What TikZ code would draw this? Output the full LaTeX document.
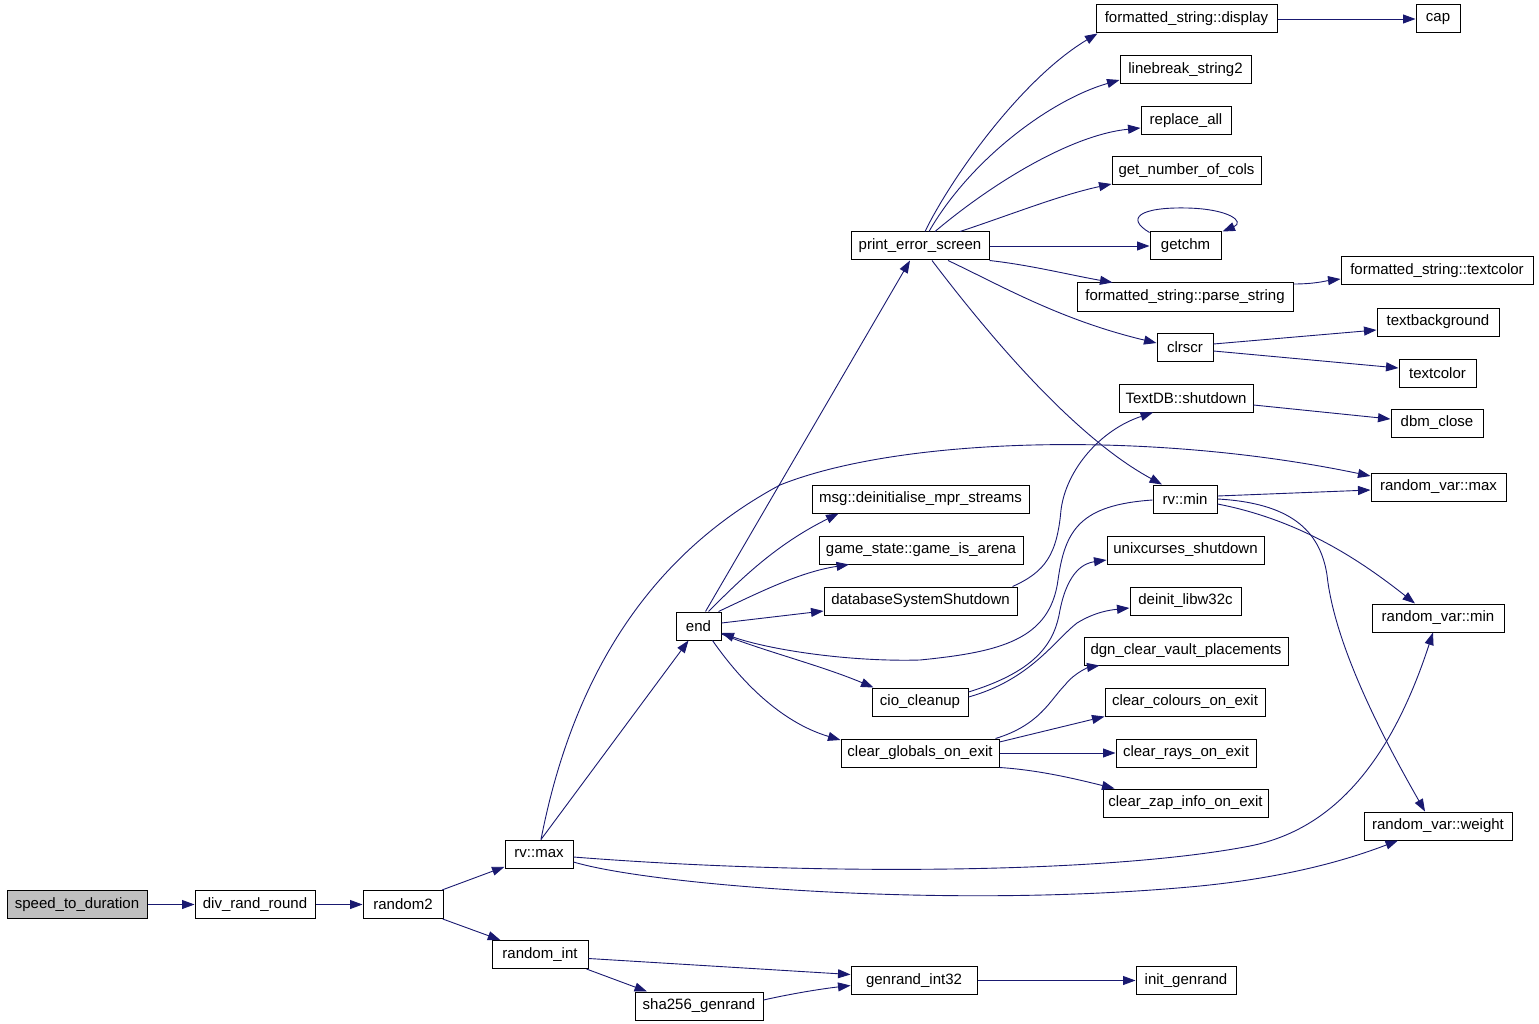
\documentclass[tikz,border=0pt]{standalone}
\usepackage{fontspec}
\setmainfont{Liberation Sans}
\usetikzlibrary{arrows.meta,calc}
\definecolor{edgec}{HTML}{191970}
\definecolor{grayfill}{HTML}{BFBFBF}
\begin{document}
\begin{tikzpicture}[x=1pt,y=-1pt,
  nd/.style={draw=black, line width=1pt, minimum width=#1, minimum height=28pt, inner sep=0pt, font=\fontsize{15}{18}\selectfont, fill=white},
  ed/.style={draw=edgec, line width=0.9pt, -{Triangle[length=12.5pt,width=9pt]}},
]
\useasboundingbox (0,0) rectangle (1539,1024);

% nodes
\node[nd=140pt, fill=grayfill] (std) at (77,904.5) {speed\_to\_duration};
\node[nd=120pt] (drr) at (255,904.5) {div\_rand\_round};
\node[nd=80pt] (r2) at (403,904.5) {random2};
\node[nd=68pt] (rvmax) at (539,854) {rv::max};
\node[nd=96pt] (rint) at (540,954.5) {random\_int};
\node[nd=128pt] (sha) at (699,1006) {sha256\_genrand};
\node[nd=126pt] (gen) at (914,980.5) {genrand\_int32};
\node[nd=100pt] (init) at (1186,980.5) {init\_genrand};
\node[nd=45pt] (endn) at (698.5,626) {end};
\node[nd=138pt] (pes) at (920,246) {print\_error\_screen};
\node[nd=181pt] (fsd) at (1186.5,19) {formatted\_string::display};
\node[nd=44pt] (cap) at (1438,19) {cap};
\node[nd=131pt] (lb2) at (1185.5,70) {linebreak\_string2};
\node[nd=90pt] (ra) at (1186,121) {replace\_all};
\node[nd=149pt] (gnc) at (1186.5,171) {get\_number\_of\_cols};
\node[nd=71pt] (getchm) at (1185.5,246) {getchm};
\node[nd=216pt] (fsp) at (1185,297) {formatted\_string::parse\_string};
\node[nd=192pt] (fst) at (1437,271) {formatted\_string::textcolor};
\node[nd=56pt] (clr) at (1185,347) {clrscr};
\node[nd=122pt] (tbg) at (1438,322) {textbackground};
\node[nd=77pt] (tc) at (1437.5,373) {textcolor};
\node[nd=134pt] (tdb) at (1186,398) {TextDB::shutdown};
\node[nd=92pt] (dbm) at (1437,423) {dbm\_close};
\node[nd=135pt] (rvarmax) at (1438.5,487) {random\_var::max};
\node[nd=64pt] (rvmin) at (1185,499) {rv::min};
\node[nd=217pt] (msg) at (920.5,499) {msg::deinitialise\_mpr\_streams};
\node[nd=204pt] (gia) at (921,550) {game\_state::game\_is\_arena};
\node[nd=193pt] (dss) at (920.5,601) {databaseSystemShutdown};
\node[nd=157pt] (unix) at (1185.5,550) {unixcurses\_shutdown};
\node[nd=111pt] (dlw) at (1185.5,601) {deinit\_libw32c};
\node[nd=132pt] (rvarmin) at (1438,618) {random\_var::min};
\node[nd=96pt] (cio) at (920,702) {cio\_cleanup};
\node[nd=204pt] (dgn) at (1186,651) {dgn\_clear\_vault\_placements};
\node[nd=160pt] (cco) at (1185,702) {clear\_colours\_on\_exit};
\node[nd=158pt] (cgo) at (920,753) {clear\_globals\_on\_exit};
\node[nd=140pt] (cro) at (1186,753) {clear\_rays\_on\_exit};
\node[nd=165pt] (czo) at (1185.5,803) {clear\_zap\_info\_on\_exit};
\node[nd=148pt] (rvw) at (1438,826) {random\_var::weight};

% edges
\draw[ed] (std.east) -- (drr.west);
\draw[ed] (drr.east) -- (r2.west);
\draw[ed] (r2) -- (rvmax);
\draw[ed] (r2) -- (rint);
\draw[ed] ($(rvmax.north)+(2,0)$) -- ($(endn.south)+(-10,0)$);
\draw[ed] ($(rvmax.north)+(2,0)$) .. controls (570,690) and (640,560) .. (780,485)
  .. controls (900,437) and (1150,430) .. ($(rvarmax.west)+(0,-11)$);
\draw[ed] ($(rvmax.east)+(0,3)$) .. controls (800,875) and (1100,875) .. (1250,846)
  .. controls (1320,832) and (1385,780) .. ($(rvarmin.south)+(-5,0)$);
\draw[ed] ($(rvmax.east)+(0,8)$) .. controls (650,885) and (950,910) .. (1200,886)
  .. controls (1300,876) and (1360,855) .. ($(rvw.south)+(-40,0)$);
\draw[ed] ($(rint.east)+(0,4)$) -- ($(gen.west)+(0,-6)$);
\draw[ed] ($(rint.south east)+(-2,0)$) -- ($(sha.north)+(-52,0)$);
\draw[ed] ($(sha.east)+(0,-6)$) .. controls (790,994) and (820,989) .. ($(gen.west)+(0,5)$);
\draw[ed] (gen.east) -- (init.west);
\draw[ed] ($(endn.north)+(7,0)$) -- ($(pes.south)+(-10,0)$);
\draw[ed] ($(endn.north)+(10,0)$) .. controls (740,580) and (775,545) .. ($(msg.south)+(-82,0)$);
\draw[ed] ($(endn.north east)+(-3,0)$) .. controls (760,592) and (800,572) .. ($(gia.south)+(-72,0)$);
\draw[ed] ($(endn.east)+(0,-3)$) -- ($(dss.west)+(0,10)$);
\draw[ed] ($(endn.east)+(0,8)$) .. controls (760,650) and (820,665) .. ($(cio.north west)+(2,0)$);
\draw[ed] ($(endn.south east)+(-9,0)$) .. controls (740,680) and (780,722) .. ($(cgo.west)+(0,-13)$);
\draw[ed] ($(rvmin.west)+(0,1)$) .. controls (1080,505) and (1065,530) .. (1058,580)
  .. controls (1050,640) and (1000,652) .. (920,660)
  .. controls (850,662) and (770,650) .. ($(endn.east)+(0,7)$);
\draw[ed] ($(pes.north)+(5,0)$) .. controls (950,180) and (1020,80) .. ($(fsd.south west)+(2,0)$);
\draw[ed] (fsd.east) -- (cap.west);
\draw[ed] ($(pes.north)+(9,0)$) .. controls (970,160) and (1050,100) .. ($(lb2.west)+(0,10)$);
\draw[ed] ($(pes.north)+(15,0)$) .. controls (990,185) and (1070,135) .. ($(ra.west)+(0,7)$);
\draw[ed] ($(pes.north)+(40,0)$) .. controls (1010,215) and (1060,195) .. ($(gnc.west)+(0,13)$);
\draw[ed] (pes.east) -- (getchm.west);
\draw[ed] ($(getchm.north west)+(0,1)$) .. controls (1125,218) and (1140,207) .. (1187,208)
  .. controls (1230,209) and (1245,222) .. ($(getchm.north east)+(1,0)$);
\draw[ed] (pes.south east) .. controls (1030,265) and (1070,275) .. ($(fsp.north west)+(36,0)$);
\draw[ed] ($(pes.south)+(28,0)$) .. controls (1000,285) and (1060,320) .. ($(clr.west)+(0,-4)$);
\draw[ed] ($(pes.south)+(12,0)$) .. controls (1000,350) and (1080,440) .. ($(rvmin.north)+(-23,0)$);
\draw[ed] ($(fsp.east)+(0,-13)$) .. controls (1315,284) and (1325,281) .. ($(fst.west)+(0,8)$);
\draw[ed] ($(clr.east)+(0,-3)$) -- ($(tbg.west)+(0,8)$);
\draw[ed] ($(clr.east)+(0,4)$) -- ($(tc.west)+(0,-5)$);
\draw[ed] ($(tdb.east)+(0,7)$) -- ($(dbm.west)+(0,-4)$);
\draw[ed] ($(dss.north east)+(-5,0)$) .. controls (1045,572) and (1057,555) .. (1061,510)
  .. controls (1066,470) and (1100,430) .. ($(tdb.south)+(-33,0)$);
\draw[ed] ($(cio.east)+(0,-10)$) .. controls (1040,670) and (1055,640) .. (1060,610)
  .. controls (1068,570) and (1085,563) .. ($(unix.west)+(0,10)$);
\draw[ed] ($(cio.east)+(0,-5)$) .. controls (1030,680) and (1055,640) .. (1077,623)
  .. controls (1095,612) and (1110,610) .. ($(dlw.west)+(0,7)$);
\draw[ed] ($(rvmin.east)+(0,-3)$) -- ($(rvarmax.west)+(0,3)$);
\draw[ed] ($(rvmin.east)+(0,5)$) .. controls (1300,520) and (1360,560) .. ($(rvarmin.north)+(-23,0)$);
\draw[ed] (rvmin.east) .. controls (1290,503) and (1320,530) .. (1327,575)
  .. controls (1335,650) and (1390,750) .. ($(rvw.north)+(-13,0)$);
\draw[ed] ($(cgo.north east)+(-4,0)$) .. controls (1040,725) and (1050,700) .. (1065,685)
  .. controls (1075,672) and (1090,667) .. ($(dgn.south west)+(16,0)$);
\draw[ed] ($(cgo.east)+(0,-11)$) -- (cco.south west);
\draw[ed] (cgo.east) -- (cro.west);
\draw[ed] (cgo.south east) .. controls (1040,770) and (1080,780) .. ($(czo.north west)+(12,0)$);
\end{tikzpicture}
\end{document}
